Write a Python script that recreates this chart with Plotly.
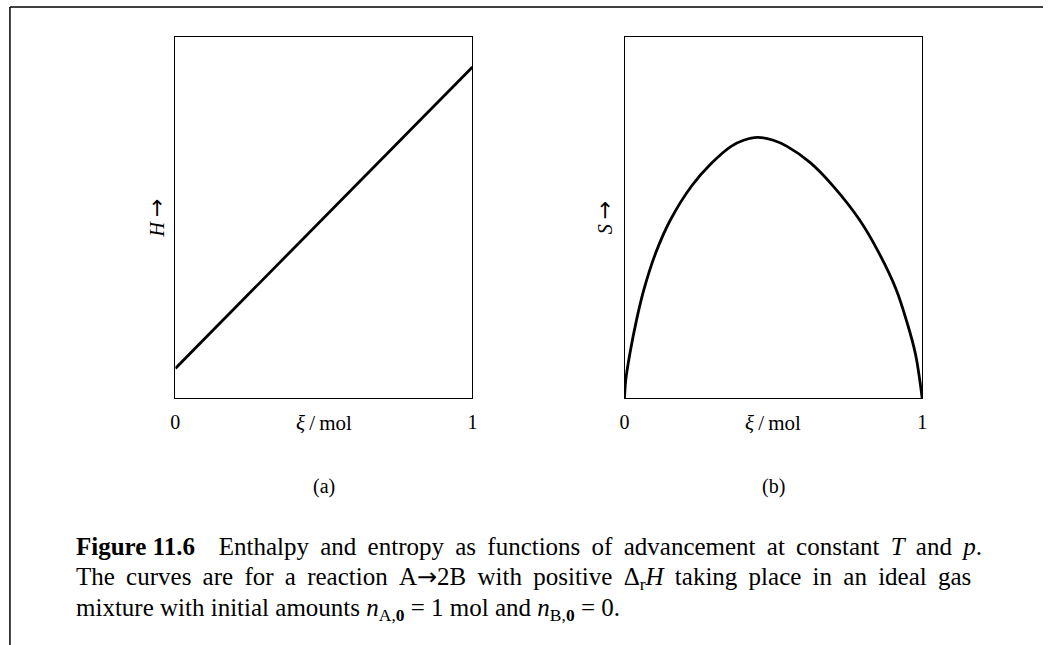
import plotly.graph_objects as go

# ---- data ----
xi_H = [0.0, 1.0]
H_vals = [0.082, 0.917]

xi_S = [0.0, 0.004, 0.018, 0.040, 0.065, 0.104, 0.154, 0.226, 0.292, 0.358, 0.400, 0.447,
        0.500, 0.546, 0.624, 0.701, 0.790, 0.856, 0.912, 0.950, 0.978, 1.0]
S_vals = [0.0, 0.049, 0.123, 0.215, 0.300, 0.400, 0.493, 0.588, 0.650, 0.697, 0.714, 0.722,
          0.714, 0.697, 0.652, 0.587, 0.493, 0.400, 0.302, 0.207, 0.120, 0.0]

tick_vals = [0, 1]
tick_text = ["0", "1"]
panel_labels = ["(a)", "(b)"]
ARROW = '<span style="font-family:DejaVu Sans;font-size:22px">→</span>'
y_labels = ["<i>H</i> " + ARROW, "<i>S</i> " + ARROW]
x_title = "<i>ξ</i>\u2009/\u2009mol"
CARROW = '<span style="font-family:DejaVu Sans;font-size:24px">→</span>'
GAP = " \u2009"
caption_lines = [
    "<b>Figure 11.6</b>\u00a0\u00a0\u00a0\u2009" + GAP.join(
        "Enthalpy and entropy as functions of advancement at constant <i>T</i> and <i>p</i>.".split(" ")),
    GAP.join(("The curves are for a reaction A@@2B with positive "
              "Δ<sub>r</sub><i>H</i> taking place in an ideal gas").split(" ")).replace("@@", CARROW),
    "mixture with initial amounts <i>n</i><sub>A,<b>0</b></sub> = 1 mol and <i>n</i><sub>B,<b>0</b></sub> = 0.",
]

W, Hh = 1048, 645
FONT = "Liberation Serif"

def px_x(p):
    return p / W

def px_y(p):
    return 1 - p / Hh

fig = go.Figure()
fig.add_trace(go.Scatter(x=xi_H, y=H_vals, mode="lines",
                         line=dict(color="black", width=2.8), xaxis="x", yaxis="y",
                         showlegend=False, hoverinfo="skip"))
fig.add_trace(go.Scatter(x=xi_S, y=S_vals, mode="lines",
                         line=dict(color="black", width=2.8, shape="spline", smoothing=1.0),
                         xaxis="x2", yaxis="y2", showlegend=False, hoverinfo="skip"))

xcommon = dict(range=[0, 1], showgrid=False, zeroline=False, showline=True, mirror=True,
               linecolor="black", linewidth=1.3, tickvals=tick_vals, ticktext=tick_text,
               ticks="outside", ticklen=6, tickcolor="rgba(0,0,0,0)",
               tickfont=dict(family=FONT, size=20, color="black"), fixedrange=True)
ycommon = dict(range=[0, 1], showgrid=False, zeroline=False, showline=True, mirror=True,
               linecolor="black", linewidth=1.3, showticklabels=False, ticks="",
               fixedrange=True)

ydom = [px_y(398), px_y(37)]
fig.update_layout(
    width=W, height=Hh,
    margin=dict(l=0, r=0, t=0, b=0),
    paper_bgcolor="white", plot_bgcolor="white",
    xaxis=dict(domain=[px_x(172), px_x(472)], anchor="y", **xcommon),
    yaxis=dict(domain=ydom, anchor="x", **ycommon),
    xaxis2=dict(domain=[px_x(625.5), px_x(926)], anchor="y2", **xcommon),
    yaxis2=dict(domain=ydom, anchor="x2", **ycommon),
    font=dict(family=FONT, color="black"),
)

annotations = []
for xr, lab, ylab, ylx in zip(["x", "x2"], panel_labels, y_labels, [152, 605]):
    annotations.append(dict(x=0.5, xref=xr, y=px_y(423), yref="paper", text=x_title,
                            showarrow=False, xanchor="center", yanchor="middle",
                            font=dict(family=FONT, size=21, color="black")))
    annotations.append(dict(x=0.5, xref=xr, y=px_y(486), yref="paper", text=lab,
                            showarrow=False, xanchor="center", yanchor="middle",
                            font=dict(family=FONT, size=20, color="black")))
    annotations.append(dict(x=px_x(ylx), xref="paper", y=px_y(218), yref="paper", text=ylab,
                            textangle=-90, showarrow=False, xanchor="center", yanchor="middle",
                            font=dict(family=FONT, size=20, color="black")))

for line, yc in zip(caption_lines, [546, 578, 609]):
    annotations.append(dict(x=px_x(70), xref="paper", y=px_y(yc), yref="paper", text=line,
                            showarrow=False, xanchor="left", yanchor="middle", align="left",
                            font=dict(family=FONT, size=25, color="black")))

fig.update_layout(annotations=annotations)

# page frame (top and left edges)
fig.update_layout(shapes=[
    dict(type="line", xref="paper", yref="paper", x0=px_x(5), x1=1, y0=px_y(7), y1=px_y(7),
         line=dict(color="black", width=1.5)),
    dict(type="line", xref="paper", yref="paper", x0=px_x(5), x1=px_x(5), y0=px_y(7), y1=0,
         line=dict(color="black", width=1.5)),
])

fig.write_html("out.html", config={"displayModeBar": False},
               post_script="document.body.style.margin='0';")
